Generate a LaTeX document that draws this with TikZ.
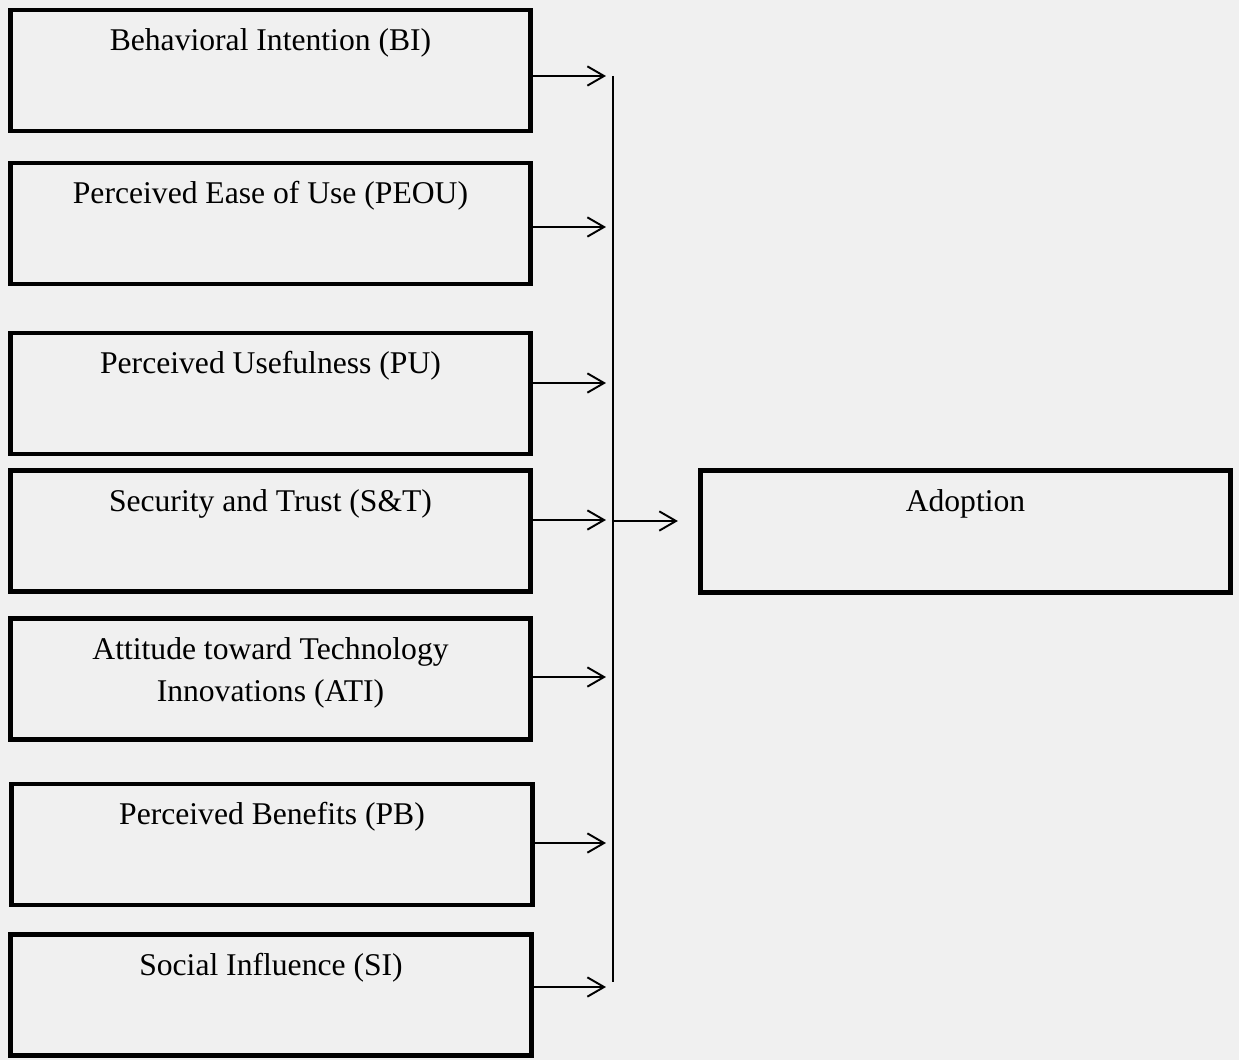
\documentclass[tikz,border=0pt]{standalone}
\usepackage{fontspec}
\setmainfont{Liberation Serif}
\usetikzlibrary{arrows.meta}
% box content: fixed-size parbox with its text set near the top edge
\newcommand\boxtext[3]{\parbox[c][#2][t]{#1}{\centering\vspace*{6.3pt}\strut #3}}
\begin{document}
\begin{tikzpicture}[x=0.02cm,y=-0.02cm,
  factor/.style={draw=black, line width=2.8pt, inner sep=0pt,
                 font=\fontsize{18}{24}\selectfont},
  conn/.style={draw=black, line width=1.1pt},
  arr/.style={conn, -{Straight Barb[length=9.5pt,width=11pt]}, shorten >=4pt}]
\fill[gray!12] (0,0) rectangle (1239,1060);
\useasboundingbox (0,0) rectangle (1239,1060);

% factor boxes
\node[factor] (bi)   at (270.5,70.5)  {\boxtext{10.42cm}{2.42cm}{Behavioral Intention (BI)}};
\node[factor] (peou) at (270.5,223.5) {\boxtext{10.42cm}{2.42cm}{Perceived Ease of Use (PEOU)}};
\node[factor] (pu)   at (270.5,393.5) {\boxtext{10.42cm}{2.42cm}{Perceived Usefulness (PU)}};
\node[factor] (st)   at (270.5,531)   {\boxtext{10.42cm}{2.42cm}{Security and Trust (S\&T)}};
\node[factor] (ati)  at (270.5,679)   {\boxtext{10.42cm}{2.42cm}{Attitude toward Technology\\Innovations (ATI)}};
\node[factor] (pb)   at (272,844.5)   {\boxtext{10.42cm}{2.42cm}{Perceived Benefits (PB)}};
\node[factor] (si)   at (271,995)     {\boxtext{10.42cm}{2.42cm}{Social Influence (SI)}};

% outcome box
\node[factor] (adopt) at (965.5,531.5) {\boxtext{10.6cm}{2.44cm}{Adoption}};

% collecting line and its junction points
\coordinate (busTop) at (613,76);
\coordinate (busBot) at (613,982);
\coordinate (j-bi)   at (613,76);
\coordinate (j-peou) at (613,227);
\coordinate (j-pu)   at (613,383);
\coordinate (j-st)   at (613,520);
\coordinate (j-ati)  at (613,677);
\coordinate (j-pb)   at (613,843);
\coordinate (j-si)   at (613,987);
\coordinate (j-out)  at (613,521);

\draw[conn] (busTop) -- (busBot);

\foreach \f in {bi,peou,pu,st,ati,pb,si}
  \draw[arr] (\f.east |- j-\f) -- (j-\f);

\draw[arr, shorten >=11.5pt] (j-out) -- (adopt.west |- j-out);
\end{tikzpicture}
\end{document}
